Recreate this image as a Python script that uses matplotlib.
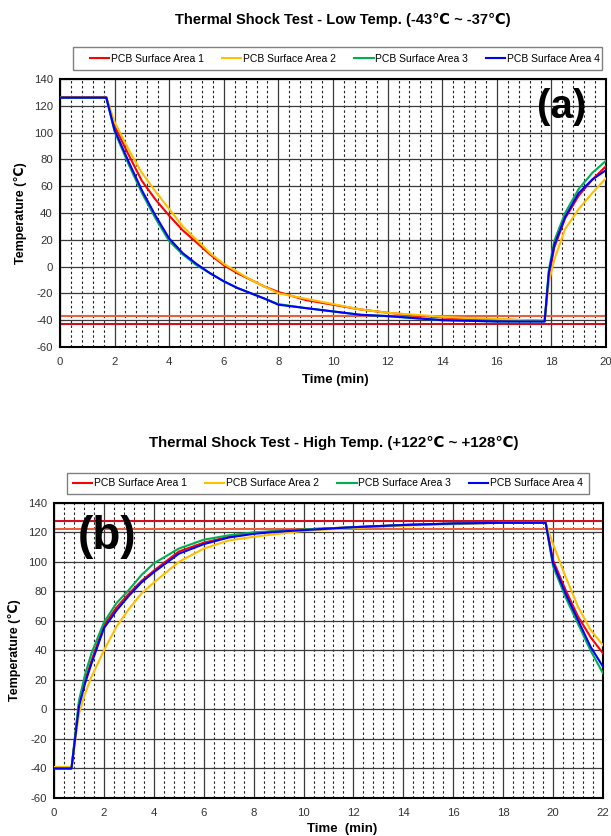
import numpy as np
import matplotlib.pyplot as plt
from matplotlib.ticker import MultipleLocator
from matplotlib.patches import Rectangle

plt.rcParams['font.family'] = ['Liberation Sans', 'DejaVu Sans']
plt.rcParams['axes.unicode_minus'] = False

# === Dados (a) - baixa temperatura ===
t_a = [0, 1.7, 2.0, 2.5, 3.0, 3.5, 4.0, 4.5, 5.0, 5.5, 6.0, 6.5, 7.0, 7.5, 8.0,
       9.0, 10.0, 11.0, 12.0, 13.0, 14.0, 15.0, 16.0, 17.0, 17.75,
       17.9, 18.1, 18.5, 19.0, 19.5, 20.0]
a_area1 = [126.5, 126.5, 105, 84, 64, 50, 38, 27, 18, 9, 1, -5, -10, -15, -19,
           -25, -28.5, -32, -34.5, -36.5, -38, -39, -39.5, -40, -40.5,
           -8, 14, 36, 53, 65, 75]
a_area2 = [126, 126, 108, 88, 70, 56, 43, 30, 20, 10, 2, -4, -10, -15, -20,
           -24, -28, -32, -34.5, -36, -37.5, -38.5, -39, -40, -40.5,
           -12, 5, 28, 43, 55, 66]
a_area3 = [126, 126, 101, 77, 55, 36, 19, 9, 1, -5, -11, -16, -20, -24, -28,
           -31, -33.5, -36, -37, -38.5, -40, -40.5, -41, -41, -41,
           -3, 19, 40, 58, 70, 79]
a_area4 = [126, 126, 102, 79, 57, 38, 21, 10, 2, -5, -11, -16, -20, -24, -28.5,
           -31, -33.5, -36, -37, -38.5, -40, -40.5, -41, -41, -41,
           -5, 16, 37, 55, 65, 72]
a_limites = [-37, -43]

# === Dados (b) - alta temperatura ===
t_b = [0, 0.7, 1.0, 1.25, 1.5, 2.0, 2.5, 3.0, 3.5, 4.0, 5.0, 6.0, 7.0, 8.0,
       9.0, 10.0, 12.0, 14.0, 16.0, 18.0, 19.7, 20.0, 20.5, 21.0, 21.5, 22.0]
b_area1 = [-40, -40, 4, 20, 33, 57, 69, 78.5, 87, 94, 107, 113, 117, 119.5,
           121, 122, 123.5, 125, 126, 127, 127, 101, 81, 63, 49, 38]
b_area2 = [-39, -39, -3, 11, 22, 40, 56, 68, 78.5, 86, 100, 109, 114.5, 117,
           119, 121, 123, 124.5, 125.5, 126.5, 126.5, 112, 90, 69.5, 54, 43.5]
b_area3 = [-40, -40, 6, 24, 38, 59, 72, 81, 91, 99, 109, 115, 118, 120,
           121, 122, 123.5, 125, 126, 126.5, 126.5, 97, 76, 58, 40, 24.5]
b_area4 = [-40, -40, 2, 18, 31, 55, 67, 77, 86, 93, 105.5, 112, 116.5, 119,
           120.5, 121.5, 123.5, 125, 126, 126.5, 126.5, 99, 78.5, 60.5, 42.5, 29]
b_limites = [128, 122]

nomes = ['PCB Surface Area 1', 'PCB Surface Area 2', 'PCB Surface Area 3', 'PCB Surface Area 4']
cores = ['#FF0000', '#FFC000', '#00B050', '#0000FF']
cores_lim = {-37: '#E8603C', -43: '#C8101E', 128: '#D0101E', 122: '#E8603C'}

W, H = 611, 836  # tamanho da figura em pixels


def configurar(ax, xmax):
    ax.set_xlim(0, xmax)
    ax.set_ylim(-60, 140)
    ax.xaxis.set_major_locator(MultipleLocator(2))
    ax.xaxis.set_minor_locator(MultipleLocator(0.4))
    ax.yaxis.set_major_locator(MultipleLocator(20))
    ax.grid(True, which='major', color='#3a3a3a', lw=0.9)
    ax.grid(True, which='minor', axis='x', color='#222222', lw=0.8, ls=(0, (2.2, 2.2)))
    ax.tick_params(which='both', length=0, labelsize=8.2, labelcolor='#333333')
    ax.tick_params(axis='x', pad=7)
    ax.tick_params(axis='y', pad=5)
    for s in ax.spines.values():
        s.set_linewidth(1.5)
        s.set_color('black')
    ax.set_axisbelow(True)


def legenda(fig, linhas, x0, y0, x1, y1, xc):
    # caixa da legenda desenhada à parte (coordenadas em pixels da figura)
    fig.patches.append(Rectangle((x0 / W, 1 - y1 / H), (x1 - x0) / W, (y1 - y0) / H,
                                 transform=fig.transFigure, fill=False,
                                 edgecolor='#808080', lw=1.0))
    fig.legend(handles=linhas, loc='center', ncol=4,
               bbox_to_anchor=(xc / W, 1 - (y0 + y1) / 2 / H),
               fontsize=7.5, frameon=False, handlelength=1.85,
               handletextpad=0.15, columnspacing=1.75, borderpad=0)


fig = plt.figure(figsize=(6.11, 8.36), dpi=100)

# === (a) ===
ax1 = fig.add_axes([0.098, 0.585, 0.894, 0.3206])
configurar(ax1, 20)
for y in a_limites:
    ax1.axhline(y, color=cores_lim[y], lw=1.5, zorder=2)
linhas = []
for serie, nome, cor in zip([a_area1, a_area2, a_area3, a_area4], nomes, cores):
    l, = ax1.plot(t_a, serie, color=cor, lw=1.5, label=nome, zorder=3)
    linhas.append(l)
ax1.set_xlabel('Time (min)', fontsize=9.5, fontweight='bold')
ax1.xaxis.set_label_coords(0.505, -0.1)
ax1.set_ylabel('Temperature (℃)', fontsize=9, fontweight='bold', labelpad=5)
ax1.text(0.918, 0.896, '(a)', transform=ax1.transAxes, fontsize=29,
         fontweight='bold', ha='center', va='center', zorder=5)
fig.text(343 / W, 1 - 20 / H, 'Thermal Shock Test - Low Temp. (-43℃ ~ -37℃)',
         ha='center', va='center', fontsize=10.5, fontweight='bold')
legenda(fig, linhas, 73, 47, 602, 70, 345)

# === (b) ===
ax2 = fig.add_axes([0.0884, 0.0455, 0.8985, 0.353])
configurar(ax2, 22)
for y in b_limites:
    ax2.axhline(y, color=cores_lim[y], lw=1.5, zorder=2)
linhas = []
for serie, nome, cor in zip([b_area1, b_area2, b_area3, b_area4], nomes, cores):
    l, = ax2.plot(t_b, serie, color=cor, lw=1.5, label=nome, zorder=3)
    linhas.append(l)
ax2.set_xlabel('Time  (min)', fontsize=9.5, fontweight='bold')
ax2.xaxis.set_label_coords(0.524, -0.086)
ax2.set_ylabel('Temperature (℃)', fontsize=9, fontweight='bold', labelpad=5)
ax2.text(0.0965, 0.885, '(b)', transform=ax2.transAxes, fontsize=33,
         fontweight='bold', ha='center', va='center', zorder=5)
fig.text(334 / W, 1 - 443 / H, 'Thermal Shock Test - High Temp. (+122℃ ~ +128℃)',
         ha='center', va='center', fontsize=10.8, fontweight='bold')
legenda(fig, linhas, 67, 473, 589, 494, 328)

fig.savefig('out.png', dpi=100)
